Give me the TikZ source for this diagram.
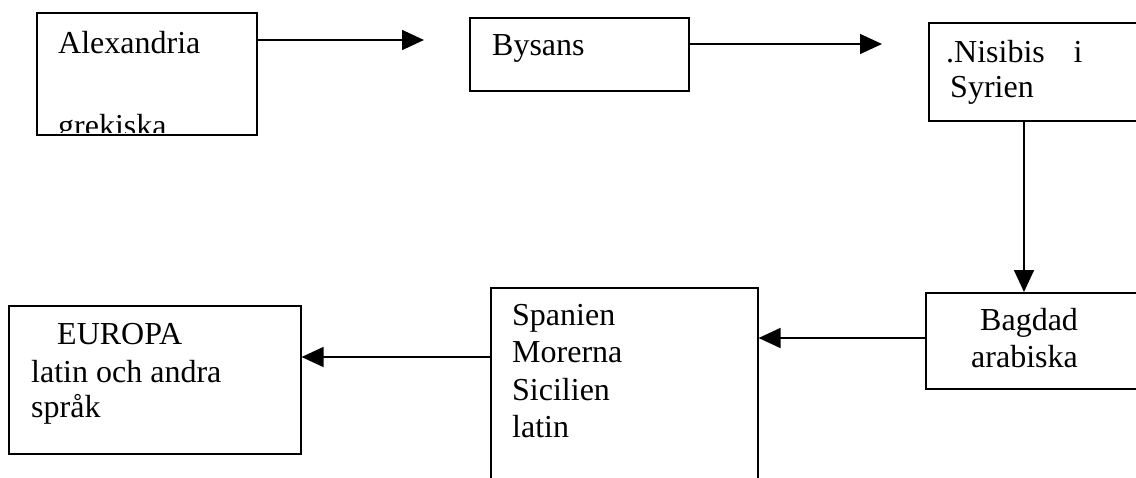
\documentclass[tikz,border=0pt]{standalone}
\usepackage{fontspec}
\setmainfont{Liberation Serif}
\usetikzlibrary{arrows.meta}
\begin{document}
\begin{tikzpicture}[x=1pt,y=-1pt,
  box/.style={draw=black,line width=1.6pt,anchor=north west,inner sep=0pt,fill=none},
  lbl/.style={anchor=base west,inner sep=0pt,font=\fontsize{32}{34}\selectfont},
  arr/.style={line width=1.6pt,-{Triangle[length=22pt,width=20pt]}}]
\clip (0,0) rectangle (1136,477);
\fill[white] (0,0) rectangle (1136,477);
% boxes
\node[box,minimum width=220pt,minimum height=122pt] (alex) at (36,12) {};
\node[box,minimum width=219pt,minimum height=73pt] (bys) at (469,17) {};
\node[box,minimum width=240pt,minimum height=98pt] (nis) at (928,22) {};
\node[box,minimum width=240pt,minimum height=96pt] (bag) at (925,292) {};
\node[box,minimum width=267pt,minimum height=220pt] (spa) at (490,287) {};
\node[box,minimum width=292pt,minimum height=148pt] (eur) at (8,305) {};
% texts
\node[lbl] (t1) at (58,53) {Alexandria};
\begin{scope}
\clip (36,12) rectangle (256,132);
\node[lbl] (t2) at (58,136) {grekiska};
\end{scope}
\node[lbl] (t3) at (492,55) {Bysans};
\node[lbl] (t4) at (946,62) {.Nisibis\hspace{0.9em}i};
\node[lbl] (t5) at (950,97) {Syrien};
\node[lbl] (t6) at (980,330) {Bagdad};
\node[lbl] (t7) at (971,367) {arabiska};
\node[lbl] (t8) at (512,325) {Spanien};
\node[lbl] (t9) at (512,362) {Morerna};
\node[lbl] (t10) at (512,400) {Sicilien};
\node[lbl] (t11) at (512,437) {latin};
\node[lbl] (t12) at (57,344) {EUROPA};
\node[lbl] (t13) at (31,382) {latin och andra};
\node[lbl] (t14) at (31,417) {språk};
% connector helpers
\coordinate (a1) at (424,40);
\coordinate (a2) at (882,44);
\coordinate (v) at (1024,0);
\coordinate (h1) at (0,338);
\coordinate (h2) at (0,357);
% connectors
\draw[arr] (alex.east |- a1) -- (a1);
\draw[arr] (bys.east |- a2) -- (a2);
\draw[arr] (nis.south -| v) -- (bag.north -| v);
\draw[arr] (bag.west |- h1) -- (spa.east |- h1);
\draw[arr] (spa.west |- h2) -- (eur.east |- h2);
\end{tikzpicture}
\end{document}
